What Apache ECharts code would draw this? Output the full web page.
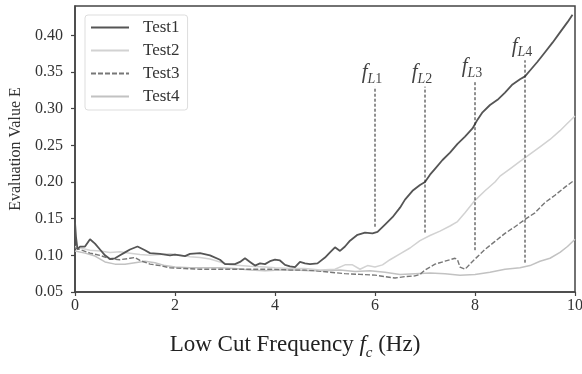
<!DOCTYPE html>
<html><head><meta charset="utf-8">
<script src="https://cdn.jsdelivr.net/npm/echarts@6/dist/echarts.min.js"></script>
<style>html,body{margin:0;padding:0;background:#fff}#c{width:582px;height:374px}</style>
</head><body><div id="c"></div>
<script>
const seriesNames = ['Test1', 'Test2', 'Test3', 'Test4'];

const test1 = [[0,0.145],[0.02,0.125],[0.05,0.108],[0.1,0.112],[0.2,0.112],[0.3,0.122],[0.4,0.116],[0.5,0.108],[0.6,0.1],[0.7,0.095],[0.8,0.096],[0.9,0.1],[1.0,0.104],[1.1,0.108],[1.25,0.112],[1.4,0.107],[1.5,0.103],[1.7,0.102],[1.9,0.1],[2.0,0.101],[2.2,0.099],[2.3,0.102],[2.5,0.103],[2.7,0.1],[2.9,0.094],[3.0,0.088],[3.2,0.088],[3.3,0.091],[3.4,0.096],[3.5,0.091],[3.6,0.086],[3.7,0.089],[3.8,0.088],[3.9,0.092],[4.0,0.094],[4.1,0.093],[4.2,0.087],[4.3,0.085],[4.4,0.084],[4.5,0.091],[4.6,0.089],[4.7,0.088],[4.85,0.089],[5.0,0.097],[5.1,0.104],[5.2,0.111],[5.3,0.106],[5.4,0.112],[5.5,0.12],[5.65,0.128],[5.8,0.131],[5.95,0.13],[6.05,0.132],[6.2,0.142],[6.35,0.152],[6.5,0.165],[6.6,0.176],[6.75,0.188],[6.9,0.196],[7.0,0.2],[7.1,0.21],[7.2,0.218],[7.35,0.23],[7.5,0.24],[7.65,0.252],[7.8,0.262],[7.95,0.273],[8.05,0.285],[8.15,0.295],[8.3,0.305],[8.45,0.312],[8.6,0.322],[8.75,0.333],[8.9,0.34],[9.0,0.344],[9.1,0.352],[9.25,0.364],[9.4,0.377],[9.55,0.39],[9.7,0.404],[9.85,0.418],[9.95,0.428]];

const test2 = [[0,0.112],[0.1,0.11],[0.3,0.107],[0.5,0.106],[0.7,0.104],[0.9,0.105],[1.1,0.103],[1.3,0.101],[1.5,0.1],[1.7,0.101],[1.9,0.102],[2.1,0.1],[2.3,0.098],[2.5,0.097],[2.7,0.095],[2.9,0.091],[3.1,0.087],[3.3,0.086],[3.5,0.085],[3.8,0.084],[4.0,0.083],[4.3,0.082],[4.6,0.082],[4.9,0.08],[5.2,0.081],[5.4,0.087],[5.55,0.087],[5.7,0.081],[5.85,0.086],[6.0,0.084],[6.15,0.087],[6.3,0.094],[6.5,0.102],[6.7,0.11],[6.9,0.12],[7.1,0.127],[7.3,0.133],[7.5,0.14],[7.65,0.146],[7.8,0.158],[8.0,0.175],[8.2,0.188],[8.4,0.2],[8.5,0.208],[8.7,0.218],[8.9,0.228],[9.1,0.238],[9.3,0.248],[9.5,0.258],[9.7,0.27],[9.85,0.28],[10,0.29]];

const test3 = [[0,0.11],[0.1,0.108],[0.3,0.103],[0.5,0.1],[0.7,0.095],[0.9,0.094],[1.1,0.096],[1.2,0.097],[1.3,0.093],[1.5,0.088],[1.7,0.086],[1.9,0.083],[2.2,0.082],[2.5,0.081],[2.8,0.081],[3.1,0.081],[3.4,0.081],[3.7,0.081],[4.0,0.081],[4.3,0.08],[4.6,0.08],[4.8,0.079],[5.1,0.077],[5.4,0.075],[5.7,0.074],[6.0,0.073],[6.2,0.071],[6.4,0.069],[6.6,0.071],[6.8,0.072],[6.9,0.074],[7.0,0.08],[7.2,0.088],[7.4,0.092],[7.6,0.096],[7.65,0.094],[7.7,0.084],[7.8,0.081],[7.9,0.088],[8.0,0.095],[8.2,0.108],[8.4,0.119],[8.6,0.13],[8.8,0.139],[9.0,0.149],[9.2,0.158],[9.4,0.172],[9.6,0.182],[9.8,0.193],[10,0.203]];

const test4 = [[0,0.106],[0.2,0.103],[0.4,0.099],[0.6,0.091],[0.8,0.088],[1.0,0.088],[1.2,0.09],[1.4,0.092],[1.6,0.09],[1.8,0.086],[2.0,0.084],[2.3,0.083],[2.6,0.083],[2.9,0.083],[3.2,0.082],[3.5,0.08],[3.8,0.079],[4.1,0.08],[4.4,0.08],[4.7,0.079],[5.0,0.079],[5.3,0.08],[5.6,0.078],[5.9,0.079],[6.2,0.077],[6.5,0.074],[6.8,0.075],[7.1,0.076],[7.4,0.075],[7.7,0.073],[8.0,0.074],[8.3,0.077],[8.6,0.081],[8.9,0.083],[9.1,0.086],[9.3,0.092],[9.5,0.096],[9.7,0.104],[9.85,0.112],[10,0.122]];

const xTicks = [0, 2, 4, 6, 8, 10];
const yTicks = [0.05, 0.10, 0.15, 0.20, 0.25, 0.30, 0.35, 0.40];

const markerX = [6, 7, 8, 9];
const markerBottom = [0.139, 0.131, 0.107, 0.09];
const markerTop = [0.33, 0.33, 0.338, 0.366];
const markerSub = ['1', '2', '3', '4'];

const FONT = 'Liberation Serif';
const colors = ['#555555', '#d2d2d2', '#777777', '#c2c2c2'];
const lineTypes = ['solid', 'solid', [5, 2], 'solid'];
const widths = [1.8, 1.5, 1.4, 1.5];
const dataSets = [test1, test2, test3, test4];

const series = seriesNames.map((n, i) => ({
  name: n, type: 'line', data: dataSets[i], symbol: 'none', showSymbol: false,
  lineStyle: { color: colors[i], width: widths[i], type: lineTypes[i] },
  itemStyle: { color: colors[i] },
  z: 4 - i
}));

markerX.forEach((x, i) => {
  series.push({
    type: 'line', data: [[x, markerBottom[i]], [x, markerTop[i]]], symbol: 'none',
    lineStyle: { color: '#222', width: 1, type: [3, 2] }, silent: true, z: 6
  });
});

series.push({
  type: 'scatter', symbolSize: 1, itemStyle: { color: 'rgba(0,0,0,0)' }, silent: true, z: 7,
  data: markerX.map((x, i) => [x, markerTop[i]]),
  label: {
    show: true, position: 'top', distance: 2, offset: [-3, 2],
    formatter: p => '{f|f}{s|L}{d|' + markerSub[p.dataIndex] + '}',
    rich: {
      f: { fontFamily: FONT, fontStyle: 'italic', fontSize: 21, lineHeight: 24, verticalAlign: 'top', color: '#111' },
      s: { fontFamily: FONT, fontStyle: 'italic', fontSize: 14, lineHeight: 24, verticalAlign: 'bottom', color: '#111' },
      d: { fontFamily: FONT, fontSize: 14, lineHeight: 24, verticalAlign: 'bottom', color: '#111' }
    }
  }
});

const chart = echarts.init(document.getElementById('c'), null, { renderer: 'canvas' });
chart.setOption({
  animation: false,
  backgroundColor: '#fff',
  grid: { left: 75, right: 7, top: 6, bottom: 82, containLabel: false, outerBoundsMode: 'none', show: true, borderColor: '#444', borderWidth: 1.5, backgroundColor: 'transparent' },
  legend: {
    data: seriesNames, orient: 'vertical', left: 85, top: 15, padding: [4, 8, 5, 5],
    itemWidth: 38, itemHeight: 14, itemGap: 6,
    itemStyle: { color: 'rgba(0,0,0,0)', borderColor: 'rgba(0,0,0,0)', borderWidth: 0, opacity: 0 },
    borderColor: '#ddd', borderWidth: 1, borderRadius: 3, backgroundColor: '#fff',
    textStyle: { fontFamily: FONT, fontSize: 17, color: '#333', lineHeight: 16, padding: [0, 0, 0, 9] }
  },
  xAxis: {
    type: 'value', min: 0, max: 10, interval: 2,
    axisLine: { show: true, lineStyle: { color: '#444', width: 1.5 } },
    axisTick: { show: true, length: 4, inside: false, lineStyle: { color: '#444', width: 1.2 }, customValues: xTicks },
    axisLabel: { fontFamily: FONT, fontSize: 16, color: '#333', margin: 6, customValues: xTicks },
    splitLine: { show: false }
  },
  yAxis: {
    type: 'value', min: 0.05, max: 0.44, interval: 0.05,
    name: 'Evaluation Value E', nameLocation: 'middle', nameGap: 51,
    nameTextStyle: { fontFamily: FONT, fontSize: 16, color: '#333' },
    axisLine: { show: true, lineStyle: { color: '#444', width: 1.5 } },
    axisTick: { show: true, length: 4, inside: false, lineStyle: { color: '#444', width: 1.2 }, customValues: yTicks },
    axisLabel: { fontFamily: FONT, fontSize: 16, color: '#333', margin: 12, customValues: yTicks, formatter: v => v.toFixed(2) },
    splitLine: { show: false }
  },
  graphic: [{
    type: 'text', x: 295, y: 333, silent: true,
    style: {
      text: '{n|Low Cut Frequency }{i|f}{s|c}{n| (Hz)}',
      align: 'center',
      rich: {
        n: { fontFamily: FONT, fontSize: 23, lineHeight: 28, verticalAlign: 'top', fill: '#222' },
        i: { fontFamily: FONT, fontStyle: 'italic', fontSize: 23, lineHeight: 28, verticalAlign: 'top', fill: '#222' },
        s: { fontFamily: FONT, fontStyle: 'italic', fontSize: 15, lineHeight: 28, verticalAlign: 'bottom', fill: '#222' }
      }
    }
  }],
  series: series
});
</script>
</body></html>
